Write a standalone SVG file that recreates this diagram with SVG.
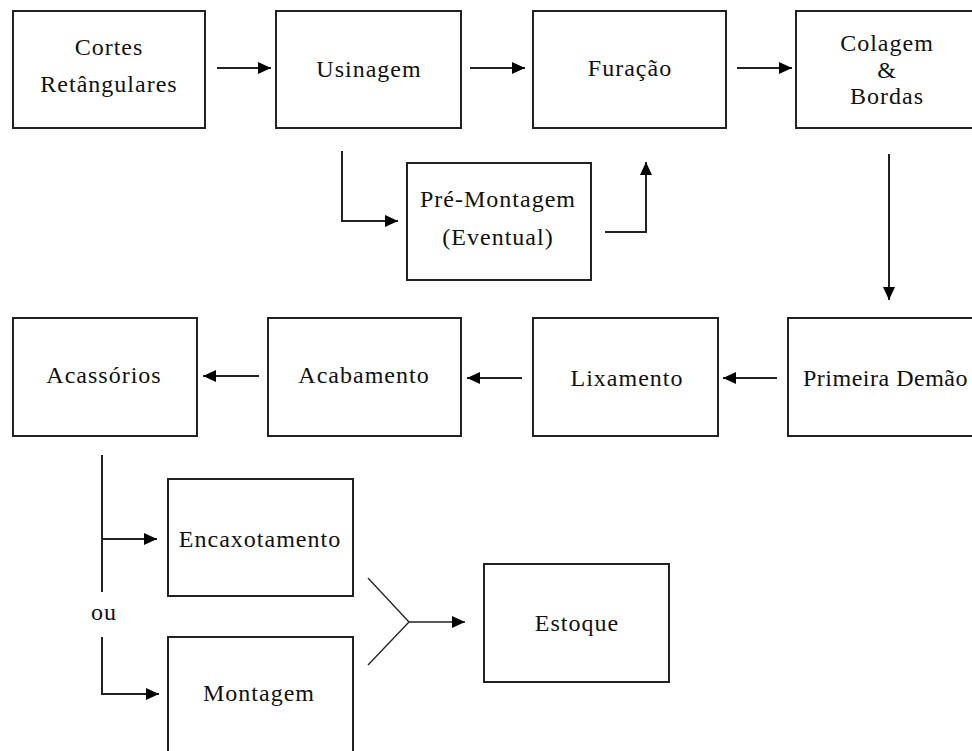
<svg xmlns="http://www.w3.org/2000/svg" width="972" height="751" viewBox="0 0 972 751">
  <style>
    .box { fill: #ffffff; stroke: #222222; stroke-width: 2; }
    .lbl { font-family: "Liberation Serif", "Times New Roman", serif; font-size: 24px; letter-spacing: 1px; fill: #111111; text-anchor: middle; }
    .ln { fill: none; stroke: #222222; stroke-width: 2; }
    .thin { fill: none; stroke: #222222; stroke-width: 1.3; }
  </style>
  <defs>
    <marker id="arrow" markerUnits="userSpaceOnUse" markerWidth="14" markerHeight="13" refX="13" refY="6.5" orient="auto">
      <path d="M0,0.5 L13,6.5 L0,12.5 z" fill="#000000"/>
    </marker>
  </defs>
  <rect width="972" height="751" fill="#ffffff"/>

  <!-- process steps -->
  <g id="cortes">
    <rect class="box" x="13" y="11" width="192" height="117"/>
    <text class="lbl" x="109" y="55">Cortes</text>
    <text class="lbl" x="109" y="92">Retângulares</text>
  </g>
  <g id="usinagem">
    <rect class="box" x="276" y="11" width="185" height="117"/>
    <text class="lbl" x="369" y="77">Usinagem</text>
  </g>
  <g id="furacao">
    <rect class="box" x="533" y="11" width="193" height="117"/>
    <text class="lbl" x="630" y="76">Furação</text>
  </g>
  <g id="colagem">
    <rect class="box" x="796" y="11" width="190" height="117"/>
    <text class="lbl" x="887" y="51">Colagem</text>
    <text class="lbl" x="887" y="78">&amp;</text>
    <text class="lbl" x="887" y="104">Bordas</text>
  </g>
  <g id="pre-montagem">
    <rect class="box" x="407" y="163" width="184" height="117"/>
    <text class="lbl" x="498" y="207">Pré-Montagem</text>
    <text class="lbl" x="498" y="245">(Eventual)</text>
  </g>
  <g id="acessorios">
    <rect class="box" x="13" y="318" width="184" height="118"/>
    <text class="lbl" x="104" y="383">Acassórios</text>
  </g>
  <g id="acabamento">
    <rect class="box" x="268" y="318" width="193" height="118"/>
    <text class="lbl" x="364" y="383">Acabamento</text>
  </g>
  <g id="lixamento">
    <rect class="box" x="533" y="318" width="185" height="118"/>
    <text class="lbl" x="627" y="386">Lixamento</text>
  </g>
  <g id="primeira-demao">
    <rect class="box" x="788" y="318" width="200" height="118"/>
    <text class="lbl" x="803" y="386" style="text-anchor:start; letter-spacing:0.5px">Primeira Demão</text>
  </g>
  <g id="encaixotamento">
    <rect class="box" x="168" y="479" width="185" height="117"/>
    <text class="lbl" x="260" y="547">Encaxotamento</text>
  </g>
  <g id="montagem">
    <rect class="box" x="168" y="637" width="185" height="130"/>
    <text class="lbl" x="259" y="701">Montagem</text>
  </g>
  <g id="estoque">
    <rect class="box" x="484" y="564" width="185" height="118"/>
    <text class="lbl" x="577" y="631">Estoque</text>
  </g>
  <g id="ou">
    <text class="lbl" x="104" y="620">ou</text>
  </g>

  <!-- connectors -->
  <g id="connectors">
    <line class="ln" x1="217" y1="68" x2="271" y2="68" marker-end="url(#arrow)"/>
    <line class="ln" x1="470" y1="68" x2="525" y2="68" marker-end="url(#arrow)"/>
    <line class="ln" x1="737" y1="68" x2="792" y2="68" marker-end="url(#arrow)"/>
    <line class="ln" x1="889" y1="154" x2="889" y2="300" marker-end="url(#arrow)"/>
    <line class="ln" x1="777" y1="378" x2="723" y2="378" marker-end="url(#arrow)"/>
    <line class="ln" x1="522" y1="378" x2="467" y2="378" marker-end="url(#arrow)"/>
    <line class="ln" x1="259" y1="376" x2="203" y2="376" marker-end="url(#arrow)"/>
    <polyline class="ln" points="342,151 342,221 398,221" marker-end="url(#arrow)"/>
    <polyline class="ln" points="605,232 646,232 646,162" marker-end="url(#arrow)"/>
    <line class="ln" x1="102" y1="455" x2="102" y2="592"/>
    <line class="ln" x1="102" y1="539" x2="157" y2="539" marker-end="url(#arrow)"/>
    <polyline class="ln" points="102,637 102,694 159,694" marker-end="url(#arrow)"/>
    <line class="thin" x1="368" y1="578" x2="409" y2="622"/>
    <line class="thin" x1="368" y1="665" x2="409" y2="622"/>
    <line class="thin" x1="409" y1="622" x2="465" y2="622" marker-end="url(#arrow)"/>
  </g>
</svg>
